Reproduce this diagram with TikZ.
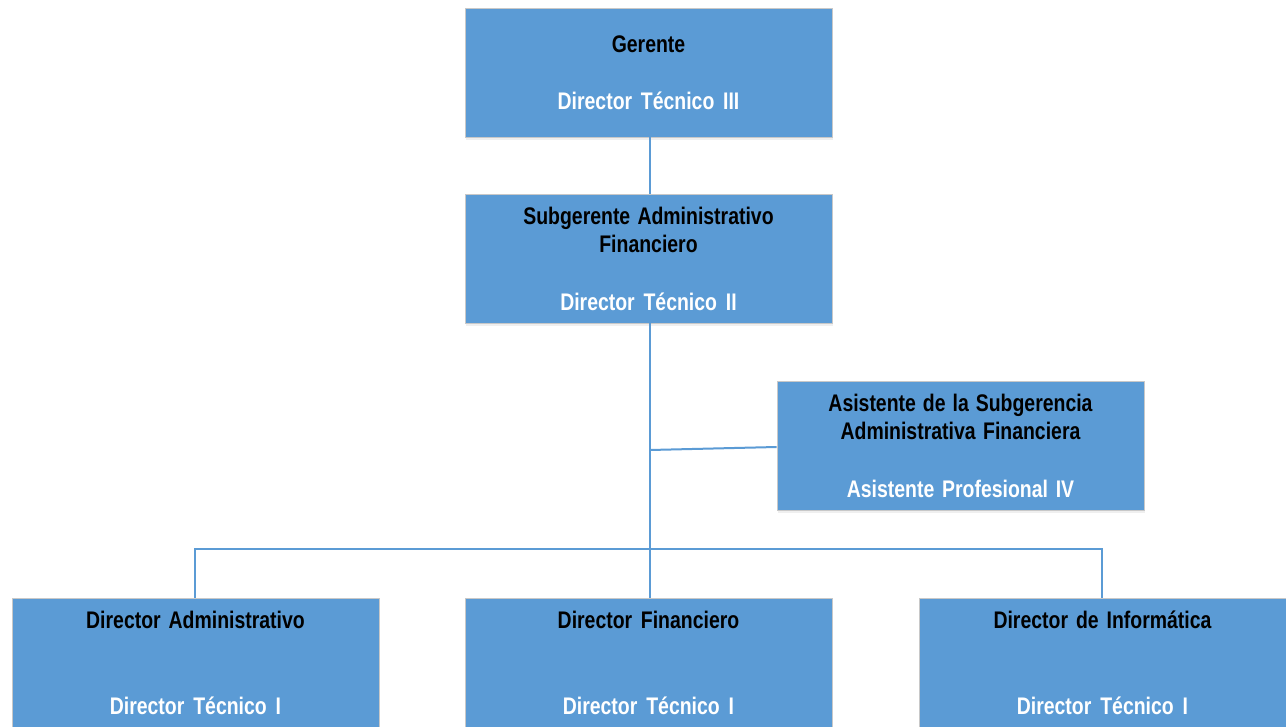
\documentclass[tikz,border=0pt]{standalone}
\usepackage{fontspec}
\setmainfont{Liberation Sans}[FakeStretch=0.81]
\usetikzlibrary{shadows}
\definecolor{boxblue}{HTML}{5B9BD5}
\definecolor{lineblue}{HTML}{5B9BD5}
\definecolor{boxedge}{HTML}{C8C8C8}
\newcommand\tightsp{\spaceskip=5pt plus 2pt minus 1pt\relax}
\begin{document}
\begin{tikzpicture}[x=1pt,y=1pt,
  orgbox/.style={draw=boxedge, line width=0.8pt, fill=boxblue,
    minimum width=367pt, minimum height=129pt, inner sep=0pt,
    text width=360pt, align=center,
    font=\fontsize{24}{28.7}\selectfont\bfseries,
    execute at begin node=\tightsp,
    drop shadow={opacity=0.12, shadow xshift=1pt, shadow yshift=-3pt}},
  link/.style={draw=lineblue, line width=2pt}]
\useasboundingbox (0,0) rectangle (1286,-727);
\fill[white] (0,0) rectangle (1286,-727);

\node[orgbox] (ger) at (648.5,-72.5) {Gerente\\[\baselineskip]\textcolor{white}{Director Técnico III}};
\node[orgbox] (sub) at (648.5,-258.5) {Subgerente Administrativo\\Financiero\\[\baselineskip]\textcolor{white}{Director Técnico II}};
\node[orgbox] (asis) at (960.5,-445.5) {Asistente de la Subgerencia\\Administrativa Financiera\\[\baselineskip]\textcolor{white}{Asistente Profesional IV}};
\node[orgbox] (adm) at (195.5,-662.5) {Director Administrativo\\[2\baselineskip]\textcolor{white}{Director Técnico I}};
\node[orgbox] (fin) at (648.5,-662.5) {Director Financiero\\[2\baselineskip]\textcolor{white}{Director Técnico I}};
\node[orgbox] (inf) at (1102.5,-662.5) {Director de Informática\\[2\baselineskip]\textcolor{white}{Director Técnico I}};

\coordinate (j) at (650,-450);
\coordinate (bus) at (650,-549);
\coordinate (busL) at (195,-549);
\coordinate (busR) at (1102,-549);

\draw[link] (ger.south -| j) -- (sub.north -| j);
\draw[link] (sub.south -| j) -- (fin.north -| j);
\draw[link] (j) -- ([yshift=-1.5pt]asis.west);
\draw[link] (adm.north -| busL) -- (busL) -- (busR) -- (inf.north -| busR);
\end{tikzpicture}
\end{document}
